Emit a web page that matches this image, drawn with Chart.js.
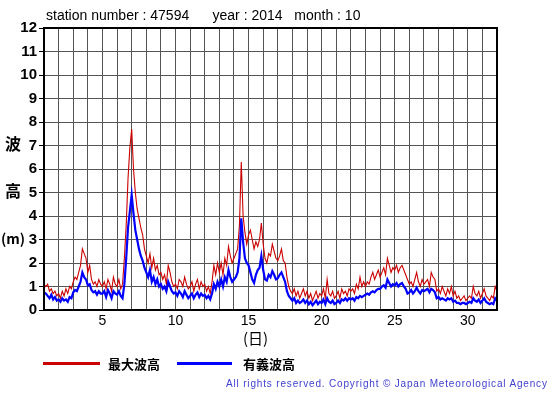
<!DOCTYPE html>
<html><head><meta charset="utf-8">
<script src="https://cdn.jsdelivr.net/npm/chart.js@4"></script>
<style>
html,body{margin:0;padding:0;background:#fff;}
#wrap{position:relative;width:555px;height:395px;overflow:hidden;font-family:"Liberation Sans",Arial,sans-serif;}
canvas{position:absolute;left:0;top:0;}
.t{position:absolute;white-space:pre;color:#000;}
.jp{font-family:"Noto Sans CJK JP",sans-serif;font-weight:bold;}
</style></head><body>
<div id="wrap">
<canvas id="c" width="555" height="395"></canvas>
<div class="t" style="left:46px;top:7px;font-size:14px;">station number : 47594      year : 2014   month : 10</div>
<div class="t jp" style="left:5px;top:131px;font-size:16px;">波</div>
<div class="t jp" style="left:5px;top:178px;font-size:16px;">高</div>
<div class="t jp" style="left:1px;top:228px;font-size:14px;">(m)</div>
<div class="t jp" style="left:243px;top:327px;font-size:15px;font-weight:normal;">(日)</div>
<div style="position:absolute;left:43px;top:362px;width:57px;height:3px;background:#cc0000;"></div>
<div class="t jp" style="left:108px;top:354px;font-size:13px;">最大波高</div>
<div style="position:absolute;left:177px;top:362px;width:55px;height:3px;background:#0000ff;"></div>
<div class="t jp" style="left:243px;top:354px;font-size:13px;">有義波高</div>
<div class="t" style="left:226px;top:378px;font-size:10px;letter-spacing:0.83px;color:#4040d0;">All rights reserved. Copyright © Japan Meteorological Agency</div>
</div>
<script>
const startDay = 1;
const pointsPerDay = 8;
const xTickLabels = [5, 10, 15, 20, 25, 30];
const yTicks = [0,1,2,3,4,5,6,7,8,9,10,11,12];
// 最大波高 (every 3 hours)
const maxWave = [
1.1,1.0,1.1,0.8,0.9,0.7,0.8,0.6,
0.7,0.5,0.8,0.6,0.9,0.7,1.0,0.9,
1.2,1.4,1.3,1.6,1.9,2.6,2.4,2.2,
1.6,1.9,1.3,1.1,1.2,1.0,1.3,1.1,
1.0,1.2,0.9,1.3,1.1,0.8,1.4,1.1,
1.0,1.3,0.9,1.1,2.2,3.6,5.6,6.9,
7.7,6.0,5.0,4.3,3.9,3.5,3.2,2.6,
2.3,2.0,2.4,1.8,2.2,1.7,1.9,1.5,
1.6,1.3,1.5,1.1,1.9,1.6,1.2,1.0,
1.1,0.9,1.3,1.2,1.0,1.4,1.1,0.9,
1.0,1.2,0.8,1.1,1.3,0.9,1.2,1.0,
1.1,0.8,1.0,0.7,1.2,1.9,1.5,2.0,
1.6,2.0,1.5,2.2,1.9,2.7,2.3,2.0,
2.2,2.4,2.6,3.6,6.3,4.0,3.3,2.8,
3.2,3.4,3.0,2.6,2.9,2.7,3.0,3.7,
2.8,2.2,2.0,2.4,2.3,2.8,2.5,2.2,
2.1,2.3,2.6,2.1,2.0,1.4,1.0,0.8,
0.7,0.9,0.6,0.8,0.5,0.7,0.9,0.6,
0.8,0.5,0.7,0.4,0.6,0.8,0.5,0.7,
0.6,0.9,0.5,1.3,0.7,0.6,0.8,0.5,
0.6,0.8,0.5,0.9,0.7,0.8,0.6,0.9,
0.8,0.9,0.7,1.1,0.9,1.4,1.0,1.2,
1.0,1.2,1.1,1.4,1.6,1.3,1.5,1.7,
1.4,1.6,1.8,1.5,2.2,1.9,1.6,1.8,
1.7,1.9,1.6,1.8,1.9,1.7,1.5,1.3,
1.1,1.2,1.0,1.3,1.6,1.2,1.0,1.3,
1.1,1.2,1.3,1.0,1.6,1.4,1.3,0.8,
0.9,0.7,1.0,0.8,0.6,0.9,0.7,1.0,
0.6,0.8,0.5,0.6,0.4,0.5,0.6,0.4,
0.5,0.6,0.5,1.0,0.7,0.6,0.8,0.5,
0.7,0.9,0.6,0.5,0.4,0.6,0.5,1.0,
0.8];
// 有義波高 (every 3 hours)
const sigWave = [
0.75,0.7,0.6,0.5,0.65,0.45,0.55,0.4,
0.45,0.35,0.5,0.4,0.45,0.35,0.55,0.5,
0.75,0.85,0.8,1.0,1.2,1.6,1.4,1.3,
1.05,1.1,0.85,0.75,0.8,0.65,0.8,0.7,
0.7,0.8,0.55,0.85,0.7,0.5,0.8,0.7,
0.65,0.8,0.6,0.5,1.1,2.2,3.5,4.2,
4.9,4.1,3.4,3.0,2.6,2.3,2.1,1.8,
1.6,1.4,1.7,1.2,1.4,1.1,1.3,1.0,
1.1,0.9,1.0,0.8,1.2,1.0,0.8,0.7,
0.75,0.6,0.8,0.7,0.55,0.8,0.65,0.5,
0.6,0.7,0.5,0.65,0.75,0.55,0.7,0.6,
0.65,0.5,0.6,0.45,0.7,1.1,0.9,1.2,
1.0,1.3,1.0,1.4,1.2,1.7,1.4,1.2,
1.3,1.4,1.6,2.2,3.9,2.9,2.2,2.0,
1.9,1.6,1.3,1.15,1.5,1.7,1.8,2.3,
1.7,1.3,1.25,1.5,1.4,1.65,1.5,1.3,
1.35,1.5,1.6,1.4,1.2,0.8,0.6,0.5,
0.4,0.5,0.3,0.4,0.3,0.35,0.45,0.3,
0.4,0.25,0.35,0.2,0.3,0.4,0.25,0.35,
0.3,0.45,0.25,0.5,0.35,0.3,0.4,0.25,
0.3,0.4,0.3,0.45,0.4,0.5,0.4,0.5,
0.45,0.5,0.4,0.55,0.5,0.6,0.55,0.6,
0.65,0.7,0.65,0.75,0.8,0.75,0.85,0.9,
0.9,1.0,1.05,0.95,1.3,1.15,1.0,1.1,
1.05,1.15,1.0,1.1,1.15,1.0,0.9,0.7,
0.75,0.85,0.7,0.8,0.95,0.8,0.7,0.85,
0.8,0.85,0.9,0.75,0.9,0.85,0.75,0.5,
0.55,0.45,0.5,0.45,0.4,0.5,0.45,0.5,
0.35,0.4,0.3,0.3,0.25,0.3,0.3,0.25,
0.3,0.35,0.3,0.5,0.4,0.35,0.45,0.3,
0.4,0.5,0.35,0.3,0.25,0.3,0.25,0.5,
0.4];

const toPts = arr => arr.map((v, i) => ({x: startDay + i / pointsPerDay, y: v}));

new Chart(document.getElementById('c'), {
  type: 'line',
  data: {
    datasets: [
      {label: '有義波高', data: toPts(sigWave), borderColor: '#0000ff', borderWidth: 2.2, pointRadius: 0, tension: 0, fill: false},
      {label: '最大波高', data: toPts(maxWave), borderColor: '#cc0000', borderWidth: 1.1, pointRadius: 0, tension: 0, fill: false}
    ]
  },
  options: {
    responsive: false,
    animation: false,
    devicePixelRatio: 1,
    layout: {padding: {left: 0, top: 28, right: 58, bottom: 65}},
    plugins: {legend: {display: false}, title: {display: false}, tooltip: {enabled: false}},
    scales: {
      x: {
        type: 'linear', min: 1, max: 32,
        afterFit: s => { s.height = 20; },
        border: {color: '#000', width: 2},
        grid: {color: '#555', lineWidth: 1, drawTicks: false},
        ticks: {
          stepSize: 1, autoSkip: false, maxRotation: 0, padding: 3,
          color: '#000', font: {family: 'Liberation Sans, Arial, sans-serif', size: 14},
          callback: v => xTickLabels.includes(v) ? String(v) : ''
        }
      },
      y: {
        min: 0, max: 12,
        afterFit: s => { s.width = 44; },
        afterBuildTicks: s => { s.ticks = yTicks.map(v => ({value: v})); },
        border: {color: '#000', width: 2},
        grid: {color: '#555', lineWidth: 1, drawTicks: true, tickLength: 5, tickColor: '#000'},
        ticks: {
          padding: 2, color: '#000',
          font: {family: 'Liberation Sans, Arial, sans-serif', size: 15, weight: 'bold'}
        }
      }
    }
  },
  plugins: [{
    id: 'frame',
    afterDraw(chart) {
      const {ctx, chartArea: a} = chart;
      ctx.save();
      ctx.strokeStyle = '#000';
      ctx.lineWidth = 2;
      ctx.strokeRect(a.left, a.top, a.right - a.left, a.bottom - a.top);
      ctx.restore();
    }
  }]
});
</script>
</body></html>
